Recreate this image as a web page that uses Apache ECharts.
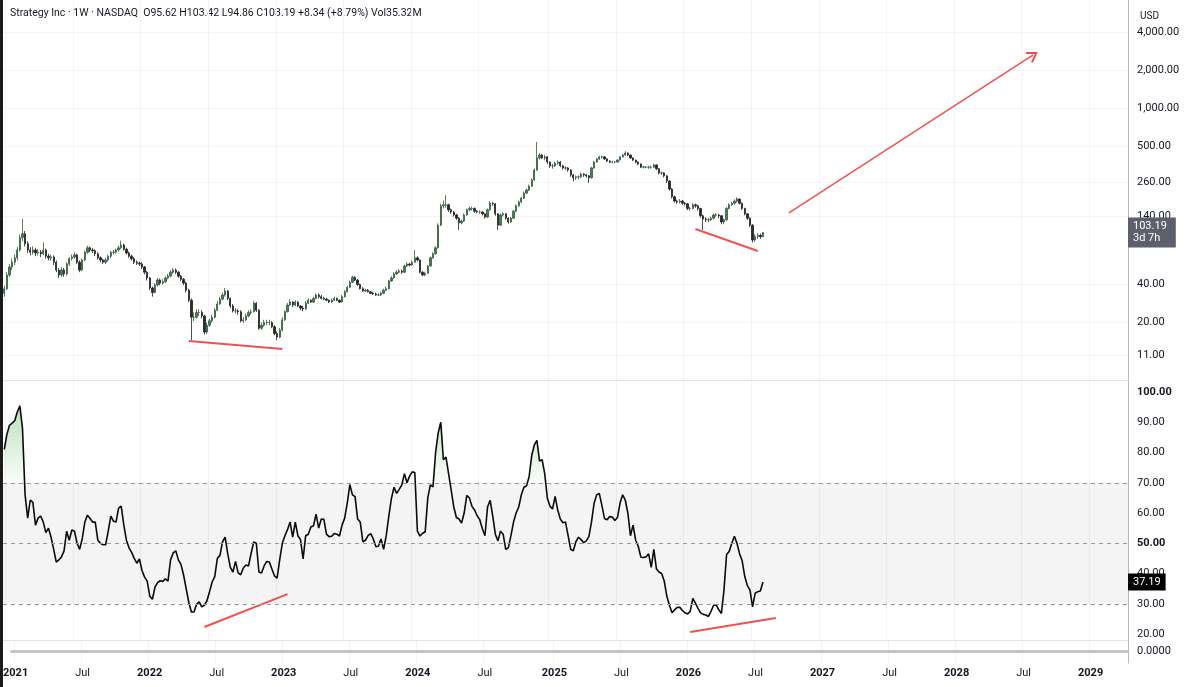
<!DOCTYPE html>
<html>
<head>
<meta charset="utf-8">
<title>Strategy Inc 1W</title>
<script src="https://cdn.jsdelivr.net/npm/echarts@6/dist/echarts.min.js"></script>
<style>
  html, body { margin: 0; padding: 0; background: #fff; }
  #chart { width: 1200px; height: 687px; }
</style>
</head>
<body>
<div id="chart"></div>
<script>
// weekly candles: [open, close, low, high]
var candles = [
  [34,37,32,39],[37,47.6,36,50],[47.6,55,46,58],[55,60,52,64],[60,65,57,69],[65,75,62,79],[75,94,73,99],[94,101,88,132],[101,84,80,106],[84,75,71,88],
  [75,72,68,79],[72,75,69,80],[75,71,67,78],[71,72,68,76],[72,70,66,75],[70,75,68,86],[75,67,64,77],[67,65,62,70],[65,66,62,69],[66,60,57,68],
  [60,52,50,62],[52,47.6,45,54],[47.6,52,46,55],[52,48.5,46,54],[48.5,58,47,60],[58,64,56,66],[64,66,62,69],[66,68.6,64,72],[68.6,60,58,70],[60,52,50,62],
  [52,62.5,51,64],[62.5,72,61,74],[72,78,70,81],[78,75,72,80],[75,74,71,78],[74,70,67,76],[70,65,63,72],[65,62.5,60,67],[62.5,60,58,64],[60,62.5,58,65],
  [62.5,67,61,69],[67,72,65,74],[72,72,69,75],[72,75,70,77],[75,78,73,81],[78,82,76,89],[82,76,74,84],[76,71,69,78],[71,67,65,73],[67,64,62,69],
  [64,60,58,66],[60,59,57,62],[59,58,56,61],[58,55,53,60],[55,50,48,56],[50,45,43,51],[45,37.5,36,46],[37.5,34.5,32,38.5],[34.5,39.6,34,41],[39.6,43.4,38.5,45],
  [43.4,41,39.5,44.5],[41,42,40,44],[42,45,41,46.5],[45,46.6,44,48.5],[46.6,50,45.5,52],[50,52,48.5,54],[52,50,48.5,53.5],[50,46.6,45,51],[46.6,44,42.5,47.5],[44,41,39.5,45],
  [41,36,34.5,42],[36,30,29,37],[30,22,14.5,31],[22,22,20.5,24],[22,24,21.5,25.5],[24,24,22.5,25.5],[24,22.5,21.5,25],[22.5,16.8,16,23],[16.8,19,16.2,20],[19,20.6,18.5,21.5],
  [20.6,22,20,23],[22,25,21.5,26],[25,28,24.5,29.5],[28,30.6,27.5,32],[30.6,33,30,34.5],[33,35.5,32,37.5],[35.5,31,30,36],[31,27,26,31.5],[27,24.7,24,28],[24.7,24.7,23.5,26],
  [24.7,24.3,23,25.5],[24.3,20.6,20,25],[20.6,21,19.8,22],[21,22.5,20.5,23.5],[22.5,24,22,25],[24,24.3,23,25.5],[24.3,28.4,24,29.5],[28.4,25,24.2,29],[25,18,17.5,25.5],[18,19,17.5,20],
  [19,20,18.5,21],[20,20,19,21],[20,20,19,21],[20,18.5,18,20.5],[18.5,16.3,15.8,19],[16.3,15.3,14.5,17],[15.3,17.4,15,18],[17.4,21,17,22],[21,24.3,20.5,25],[24.3,27.5,24,28.5],
  [27.5,29,27,30.5],[29,27.5,26.5,29.5],[27.5,29,27,30],[29,27,26.5,29.5],[27,26,25,27.5],[26,25.6,24.5,27],[25.6,28.4,25,29.5],[28.4,30,28,31],[30,29,28.5,30.5],[29,31,28.5,32],
  [31,33,30.5,34],[33,32,31,34],[32,31,30.5,33],[31,30.6,30,32],[30.6,30,29.5,31.5],[30,29,28.5,30.5],[29,30,28.5,31],[30,31,29.5,32],[31,30,29.5,31.5],[30,29,28.5,30.5],
  [29,32,28.8,33],[32,35,31.5,36],[35,38,34.5,39],[38,41.6,37.5,43],[41.6,45.6,41,47],[45.6,43.4,42.5,46.5],[43.4,40,39,44],[40,37,36.5,40.5],[37,35.5,35,38],[35.5,36,34.8,37],
  [36,35,34.5,36.8],[35,34,33.5,35.5],[34,33.6,33,35],[33.6,33,32.5,34.5],[33,33,32.3,34],[33,34,32.5,35],[34,36,33.5,37],[36,37,35.5,38.5],[37,42.6,36.5,43.5],[42.6,45,42,46.5],
  [45,48.5,44.5,50],[48.5,50,47.5,52],[50,51,49,53],[51,50,48.5,52.5],[50,56,49.5,57.5],[56,58,55,60],[58,57,55.5,59.5],[57,60,56.5,62],[60,65,59.5,75],[65,62.5,61,67],
  [62.5,50,49,63],[50,47.6,46.5,51],[47.6,49,46.5,50.5],[49,56,48.5,57],[56,65,55.5,66.5],[65,70,64,72],[70,78,69,80],[78,118,77,122],[118,168,116,175],[168,171,160,185],
  [171,171,162,204],[171,156,150,174],[156,150,145,160],[150,142,138,153],[142,134,130,145],[134,123,108,137],[123,127,120,131],[127,142,125,146],[142,156,140,160],[156,160,152,166],
  [160,160,154,165],[160,152,148,163],[152,150,146,155],[150,150,145,154],[150,145,141,152],[145,137,133,147],[137,156,135,160],[156,176,154,182],[176,174,168,180],[174,145,140,176],
  [145,118,108,147],[118,142,116,146],[142,145,138,149],[145,134,130,147],[134,125,121,136],[125,134,123,137],[134,152,132,156],[152,168,150,172],[168,180,165,185],[180,193,176,198],
  [193,212,190,218],[212,224,208,230],[224,240,220,247],[240,269,236,276],[269,323,265,332],[323,402,318,538],[402,424,390,440],[424,402,395,432],[402,410,385,425],[410,373,360,415],
  [373,348,335,378],[348,348,330,360],[348,366,342,375],[366,373,355,385],[373,348,340,380],[348,335,325,355],[335,335,322,345],[335,323,312,340],[323,295,285,328],[295,280,262,300],
  [280,285,270,292],[285,285,272,292],[285,300,280,308],[300,295,285,305],[295,290,280,300],[290,280,255,295],[280,335,276,342],[335,373,330,380],[373,395,368,402],[395,410,388,418],
  [410,410,398,420],[410,395,388,415],[395,380,372,400],[380,373,365,385],[373,373,364,382],[373,373,365,380],[373,387,368,392],[387,410,383,415],[410,424,405,432],[424,440,418,455],
  [440,424,415,445],[424,402,396,428],[402,387,380,406],[387,373,366,390],[373,360,352,377],[360,340,334,364],[340,340,332,348],[340,340,333,347],[340,340,330,348],[340,340,330,350],
  [340,354,336,362],[354,330,322,358],[330,306,298,334],[306,306,296,314],[306,290,282,310],[290,264,255,293],[264,228,222,267],[228,198,192,232],[198,183,178,202],[183,180,174,188],
  [180,183,175,190],[183,176,171,187],[176,174,168,180],[174,160,155,177],[160,160,154,165],[160,171,157,176],[171,168,162,175],[168,160,154,171],[160,140,135,162],[140,132,108,143],
  [132,130,125,136],[130,130,124,135],[130,134,127,138],[134,142,131,146],[142,142,137,147],[142,140,134,145],[140,125,120,142],[125,130,120,133],[130,160,128,164],[160,171,157,176],
  [171,176,167,181],[176,183,172,189],[183,190,178,196],[190,176,172,192],[176,160,156,178],[160,145,141,162],[145,134,130,147],[134,118,114,136],[118,90,86,120],[90,96,87,100],
  [96,98,92,102],[98,95.62,92,101],[95.62,103.19,94.86,103.42]
];

// RSI(14) per week
var rsi = [
  81,86,89,89.7,90.5,93.4,95.4,88,66,58.3,
  64.3,63.5,56,58.3,59,57,53.5,55,52,48,
  43.8,44.5,45.5,47.5,54,51,54.4,54,50,48,
  51.5,57,59.3,58.2,57,57,51,50,49.5,49.5,
  54,59,57.3,57,61.6,62.3,56,51,48.5,47,
  45,43.4,44.8,41,38.8,37.5,32.5,31.5,35.5,37,
  37.6,37.4,38.2,37.5,44.5,46.8,47.5,44.5,43,39.5,
  35,30.5,27.3,27.3,29.8,30.6,29,29.5,31,34,
  37.2,39,45,46,50.5,52,46.5,42,40.5,44,
  40.2,39.6,41.8,42.8,42.5,46.7,50.4,50,40.5,40.2,
  42.5,44,43.8,41.5,39.2,38.5,44.5,50,52.5,54.5,
  57,52,57,52.5,51.2,44.8,52.5,53,55.4,55.8,
  59.6,55,58,57.9,53,52.2,52.3,53.2,53,52.4,
  56,58.3,63.3,69.4,66,65.4,58,57,50.5,51,
  52.5,53.2,51.5,48.9,49,51.4,48,52.5,59,64.8,
  68.5,66.5,67.8,69.3,73,70,72.2,73.6,73.4,54,
  52.4,53.3,53.8,65,69.3,68.6,80,86.5,90,77.6,
  78.5,73,67.6,62,58.5,58,56.7,60,65.8,65,
  62.2,61,59.1,57.8,54.8,52.5,62,64.2,59,53,
  50.8,54,53,48,48.5,52.5,57,60,62,66,
  68.5,69,72,79,82.5,84,77.2,77.6,73,65,
  62.3,61.3,65.5,61,58,56.8,57,52.5,48,47.5,
  50.5,52,51.2,50.2,50.8,52.2,57,63.2,66,66.5,
  62.5,58.2,57.8,58.8,58.7,57.5,58.5,63.3,66,64.3,
  60,52.5,56,51,49,45.4,45.3,45.5,46.5,42,
  48,41.5,40.5,40,37.5,32.5,29.5,27,28,28.8,
  28.8,27.8,27,26.6,27.5,31.8,30.2,28.5,27,26.5,
  26.3,25.8,27.5,29.5,29.6,28,26.8,34.5,46.3,47.3,
  50,52.3,50,46.5,44.2,39,36,34.5,29,33.5,
  34,34.2,37.19
];

var priceTicks = [4000, 2000, 1000, 500, 260, 140, 40, 20, 11];
var rsiTicks = [20, 30, 40, 50, 60, 70, 80, 90, 100];
var rsiLevels = [70, 50, 30];
var lastPrice = 103.19;
var lastRsi = 37.19;

// weekly categories, Monday dates, running on into 2029
var weeks = [];
var t0 = Date.UTC(2020, 11, 28);
for (var i = 0; i < 433; i++) {
    weeks.push(new Date(t0 + i * 7 * 86400000).toISOString().slice(0, 10));
}

function isLabelWeek(idx) {
    if (idx < 1) return false;
    var m = weeks[idx].slice(5, 7), pm = weeks[idx - 1].slice(5, 7);
    return m !== pm && (m === '01' || m === '07');
}

// red trend lines drawn on the picture
var priceLow2022 = [[weeks[71], 14.25], [weeks[107], 12.3]];
var priceLow2026 = [[weeks[266], 110], [weeks[290], 73.7]];
var arrowFrom = [weeks[302], 147.5];
var arrowTo = [weeks[396], 2630];
var rsiLow2022 = [[weeks[77], 22.3], [weeks[109], 33.2]];
var rsiLow2026 = [[weeks[264], 20.7], [weeks[297], 25.3]];

var overbought = rsi.map(function (v) { return Math.max(v, 70); });

var FONT = 'Roboto, "Liberation Sans", sans-serif';
var RED = '#ef5350';

function fmtPrice(v) {
    return Number(v).toLocaleString('en-US', { minimumFractionDigits: 2, maximumFractionDigits: 2 });
}

function xAxisFor(gridIndex, showLabels) {
    return {
        type: 'category',
        gridIndex: gridIndex,
        data: weeks,
        boundaryGap: true,
        axisTick: { show: false },
        axisLine: showLabels
            ? { show: true, lineStyle: { color: '#c4c4c4', width: 3 } }
            : { show: true, lineStyle: { color: '#e0e3eb', width: 1 } },
        axisLabel: {
            show: showLabels,
            interval: function (idx) { return isLabelWeek(idx); },
            margin: 5,
            color: '#131722',
            fontFamily: FONT,
            fontSize: 11,
            formatter: function (value) {
                return value.slice(5, 7) === '01' ? '{y|' + value.slice(0, 4) + '}' : 'Jul';
            },
            rich: { y: { fontWeight: 'bold', fontSize: 11, fontFamily: FONT, color: '#131722' } }
        },
        splitLine: {
            show: true,
            interval: function (idx) { return isLabelWeek(idx); },
            lineStyle: { color: '#f2f4f8', width: 1 }
        }
    };
}

var chart = echarts.init(document.getElementById('chart'), null, { renderer: 'canvas' });

var baseGraphics = [
    {
        id: 'header',
        type: 'text',
        left: 10,
        top: 8,
        style: {
            text: 'Strategy Inc · 1W · NASDAQ  O95.62 H103.42 L94.86 C103.19 +8.34 (+8.79%) Vol35.32M',
            fill: '#131722',
            font: '10.5px ' + FONT
        }
    },
    {
        id: 'usd',
        type: 'text',
        left: 1138,
        top: 9,
        z: 10,
        style: {
            text: 'USD',
            fill: '#131722',
            font: '10px ' + FONT,
            backgroundColor: '#ffffff',
            padding: [2, 20, 2, 2]
        }
    },
    {
        id: 'edge',
        type: 'rect',
        left: 0,
        top: 0,
        z: 10,
        shape: { width: 3, height: 687 },
        style: { fill: '#1a1a1a' }
    }
];

var option = {
    animation: false,
    backgroundColor: '#ffffff',
    grid: [
        { left: 3, right: 72, top: 0, height: 380 },
        { left: 3, right: 72, top: 381, height: 259 },
        { left: 3, right: 72, top: 640, height: 23 }
    ],
    xAxis: [xAxisFor(0, false), xAxisFor(1, false), xAxisFor(2, true)],
    yAxis: [
        {
            type: 'log',
            logBase: 10,
            gridIndex: 0,
            position: 'right',
            min: 7.0,
            max: 7170,
            axisLine: { show: true, lineStyle: { color: '#b8b8b8' } },
            axisTick: { show: false, customValues: priceTicks },
            axisLabel: {
                customValues: priceTicks,
                margin: 9,
                color: '#131722',
                fontFamily: FONT,
                fontSize: 11,
                formatter: function (v) { return fmtPrice(v); }
            },
            splitLine: { show: true, lineStyle: { color: '#f4f5f8' } }
        },
        {
            type: 'value',
            gridIndex: 1,
            position: 'right',
            min: 18.02,
            max: 103.64,
            axisLine: { show: true, lineStyle: { color: '#b8b8b8' } },
            axisTick: { show: false, customValues: rsiTicks },
            axisLabel: {
                customValues: rsiTicks,
                margin: 9,
                color: '#131722',
                fontFamily: FONT,
                fontSize: 11,
                formatter: function (v) {
                    var s = v.toFixed(2);
                    return (v === 100 || v === 50) ? '{b|' + s + '}' : s;
                },
                rich: { b: { fontWeight: 'bold', fontSize: 11, fontFamily: FONT, color: '#131722' } }
            },
            splitLine: { show: false }
        },
        {
            type: 'value',
            gridIndex: 2,
            position: 'right',
            min: -1,
            max: 1,
            axisLine: { show: true, lineStyle: { color: '#b8b8b8' } },
            axisTick: { show: false, customValues: [0] },
            axisLabel: {
                customValues: [0],
                margin: 9,
                color: '#131722',
                fontFamily: FONT,
                fontSize: 11,
                formatter: function () { return '0.0000'; }
            },
            splitLine: { show: false }
        }
    ],
    series: [
        {
            name: 'MSTR',
            type: 'candlestick',
            xAxisIndex: 0,
            yAxisIndex: 0,
            data: candles,
            barWidth: 1.8,
            itemStyle: {
                color: '#4f7f5c',
                color0: '#2a2a2a',
                borderColor: '#2f5a3b',
                borderColor0: '#1f1f1f',
                borderWidth: 0.8
            },
            markLine: {
                silent: true,
                symbol: ['none', 'none'],
                data: [
                    [
                        { coord: arrowFrom, symbol: 'none' },
                        {
                            coord: arrowTo,
                            symbol: 'path://M0,9 L5,0 L10,9 L8.6,10 L5,3.4 L1.4,10 Z',
                            symbolSize: [13, 11]
                        }
                    ]
                ],
                lineStyle: { color: RED, width: 1.5, type: 'solid' },
                label: { show: false }
            }
        },
        {
            type: 'line', xAxisIndex: 0, yAxisIndex: 0, data: priceLow2022,
            showSymbol: false, silent: true, lineStyle: { color: RED, width: 2 }
        },
        {
            type: 'line', xAxisIndex: 0, yAxisIndex: 0, data: priceLow2026,
            showSymbol: false, silent: true, lineStyle: { color: RED, width: 2 }
        },
        {
            name: 'overbought fill',
            type: 'line',
            xAxisIndex: 1,
            yAxisIndex: 1,
            data: overbought,
            showSymbol: false,
            silent: true,
            z: 1,
            lineStyle: { width: 0 },
            areaStyle: {
                origin: 70,
                color: new echarts.graphic.LinearGradient(0, 0, 0, 1, [
                    { offset: 0, color: 'rgba(76,175,80,0.55)' },
                    { offset: 1, color: 'rgba(76,175,80,0.03)' }
                ])
            }
        },
        {
            name: 'RSI',
            type: 'line',
            xAxisIndex: 1,
            yAxisIndex: 1,
            data: rsi,
            showSymbol: false,
            silent: true,
            z: 3,
            lineStyle: { color: '#0b0b0b', width: 1.6 },
            markArea: {
                silent: true,
                itemStyle: { color: 'rgba(120,120,120,0.08)' },
                data: [[{ yAxis: 30 }, { yAxis: 70 }]]
            },
            markLine: {
                silent: true,
                symbol: ['none', 'none'],
                lineStyle: { color: '#9598a1', width: 1, type: [4, 4] },
                label: { show: false },
                data: rsiLevels.map(function (v) { return { yAxis: v }; })
            }
        },
        {
            type: 'line', xAxisIndex: 1, yAxisIndex: 1, data: rsiLow2022,
            showSymbol: false, silent: true, z: 4, lineStyle: { color: RED, width: 2 }
        },
        {
            type: 'line', xAxisIndex: 1, yAxisIndex: 1, data: rsiLow2026,
            showSymbol: false, silent: true, z: 4, lineStyle: { color: RED, width: 2 }
        }
    ],
    graphic: baseGraphics
};

chart.setOption(option);

// last-value tags on the price axes, placed through the axes' own scales
var axisX = chart.convertToPixel({ gridIndex: 0 }, [weeks[0], 10])[0];
var gridRight = 1200 - 72;
var yPrice = chart.convertToPixel({ yAxisIndex: 0 }, lastPrice);
var yRsi = chart.convertToPixel({ yAxisIndex: 1 }, lastRsi);

chart.setOption({
    graphic: baseGraphics.concat([
        {
            id: 'priceTag',
            type: 'text',
            x: gridRight,
            y: yPrice,
            z: 20,
            zlevel: 1,
            style: {
                text: lastPrice.toFixed(2) + '\n3d 7h',
                fill: '#ffffff',
                font: '11px ' + FONT,
                lineHeight: 12,
                verticalAlign: 'middle',
                backgroundColor: '#5d606b',
                padding: [3, 9, 3, 5]
            }
        },
        {
            id: 'rsiTag',
            type: 'text',
            x: gridRight,
            y: yRsi,
            z: 20,
            zlevel: 1,
            style: {
                text: lastRsi.toFixed(2),
                fill: '#ffffff',
                font: '11px ' + FONT,
                verticalAlign: 'middle',
                backgroundColor: '#000000',
                padding: [3, 5, 3, 5]
            }
        }
    ])
});
</script>
